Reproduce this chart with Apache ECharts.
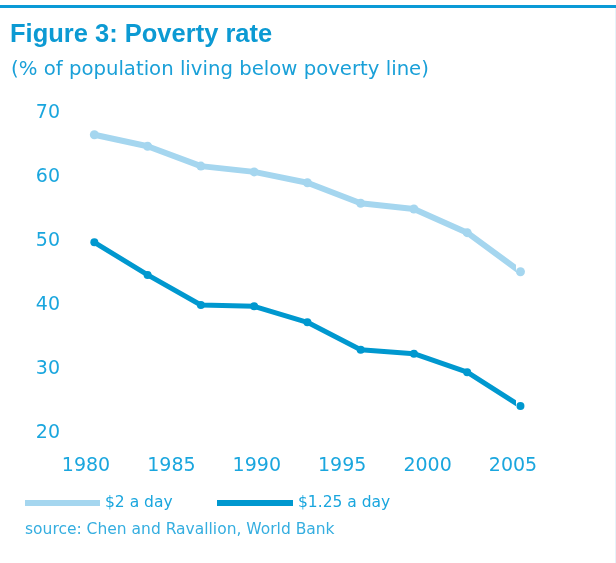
<!DOCTYPE html>
<html>
<head>
<meta charset="utf-8">
<title>Figure 3: Poverty rate</title>
<script src="https://cdn.jsdelivr.net/npm/echarts@6/dist/echarts.min.js"></script>
<style>
  html, body { margin: 0; padding: 0; background: #fff; }
  #chart { width: 616px; height: 563px; }
</style>
</head>
<body>
<div id="chart"></div>
<script>
// survey years and poverty rates (% of population)
const years = [1981, 1984, 1987, 1990, 1993, 1996, 1999, 2002, 2005];
const twoDollar = [66.6, 64.8, 61.7, 60.8, 59.1, 55.9, 55.0, 51.3, 45.2];
const oneTwentyFive = [49.8, 44.7, 40.0, 39.8, 37.3, 33.0, 32.4, 29.5, 24.2];
const yearTicks = [1980, 1985, 1990, 1995, 2000, 2005];
const seriesNames = ["$2 a day", "$1.25 a day"];

const FONT = "DejaVu Sans";
const LIGHT = "#a5d6ef";
const DARK = "#0098cf";
const TEXT = "#1aa6de";

const chart = echarts.init(document.getElementById("chart"), null, { renderer: "canvas" });

const pairs = (vals) => years.map((y, i) => [y, vals[i]]);

const options = {
  backgroundColor: "#fff",
  animation: false,
  title: [
    {
      text: "Figure 3: Poverty rate",
      left: 5,
      top: 17,
      textStyle: { fontFamily: "Liberation Sans", fontSize: 25.5, fontWeight: "bold", color: "#0c9ad3" },
    },
    {
      text: "(% of population living below poverty line)",
      left: 6,
      top: 55,
      textStyle: { fontFamily: FONT, fontSize: 19.7, fontWeight: "normal", color: "#1aa0d8" },
    },
  ],
  graphic: [
    // thin rule across the top and faint right edge
    { type: "rect", left: 0, top: 5, shape: { width: 616, height: 3 }, style: { fill: "#0a9ad6" } },
    { type: "rect", left: 615, top: 8, shape: { width: 1, height: 555 }, style: { fill: "#e6f3fa" } },
    {
      type: "text",
      left: 25,
      top: 522,
      style: { text: "source: Chen and Ravallion, World Bank", font: "15.5px " + FONT, fill: "#35aee0" },
    },
  ],
  legend: [
    {
      data: [seriesNames[0]],
      left: 20,
      top: 490,
      icon: "rect",
      itemWidth: 75,
      itemHeight: 6,
      itemGap: 6,
      textStyle: { fontFamily: FONT, fontSize: 15.5, color: TEXT },
    },
    {
      data: [seriesNames[1]],
      left: 212,
      top: 490,
      icon: "rect",
      itemWidth: 76,
      itemHeight: 6,
      textStyle: { fontFamily: FONT, fontSize: 15.5, color: TEXT },
    },
  ],
  grid: { left: 86, right: 103, top: 113, bottom: 130 },
  xAxis: [
    {
      // data axis (hidden)
      type: "value",
      min: 1980.53,
      max: 2004.58,
      show: false,
    },
    {
      // label axis
      type: "value",
      min: yearTicks[0],
      max: yearTicks[yearTicks.length - 1],
      interval: 5,
      position: "bottom",
      axisLine: { show: false },
      axisTick: { show: false },
      splitLine: { show: false },
      axisLabel: {
        margin: 24,
        fontFamily: FONT,
        fontSize: 19,
        color: TEXT,
        showMinLabel: true,
        showMaxLabel: true,
        formatter: (v) => String(v),
      },
    },
  ],
  yAxis: {
    type: "value",
    min: 20,
    max: 70,
    interval: 10,
    axisLine: { show: false },
    axisTick: { show: false },
    splitLine: { show: false },
    axisLabel: { margin: 26, fontFamily: FONT, fontSize: 19, color: TEXT },
  },
  series: [
    {
      name: seriesNames[0],
      type: "line",
      xAxisIndex: 0,
      data: pairs(twoDollar),
      clip: false,
      symbol: "circle",
      symbolSize: 9,
      itemStyle: { color: LIGHT },
      lineStyle: { color: LIGHT, width: 6 },
    },
    {
      name: seriesNames[1],
      type: "line",
      xAxisIndex: 0,
      data: pairs(oneTwentyFive),
      clip: false,
      symbol: "circle",
      symbolSize: 8,
      itemStyle: { color: DARK },
      lineStyle: { color: DARK, width: 5 },
    },
  ],
};

chart.setOption(options);
</script>
</body>
</html>
